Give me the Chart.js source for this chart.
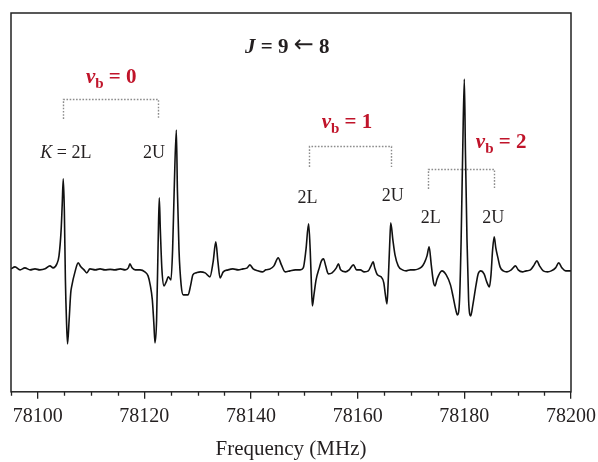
<!DOCTYPE html>
<html>
<head>
<meta charset="utf-8">
<script src="https://cdn.jsdelivr.net/npm/chart.js@4.4.1/dist/chart.umd.min.js"></script>
<style>
  body { margin: 0; background: #fff; }
  canvas { display: block; }
</style>
</head>
<body>
<canvas id="spectrum" width="598" height="462"></canvas>
<script>
// J = 9 <- 8 rotational transition, derivative lineshape (arbitrary units)
const freq = [
  78095.0, 78095.75, 78096.7, 78097.6, 78098.6, 78099.5, 78100.4, 78101.4, 78102.3, 78102.9,
  78103.6, 78104.0, 78104.4, 78104.6, 78104.8, 78105.0, 78105.2, 78105.4, 78105.6, 78105.9,
  78106.2, 78106.4, 78107.0, 78107.6, 78108.1, 78108.7, 78109.2, 78109.8, 78110.8, 78111.7,
  78112.6, 78113.6, 78114.5, 78115.5, 78116.4, 78117.0, 78117.3, 78117.7, 78118.3, 78119.2,
  78120.1, 78120.7, 78121.1, 78121.5, 78121.8, 78122.0, 78122.3, 78122.6, 78122.8, 78123.0,
  78123.3, 78123.7, 78124.1, 78124.5, 78125.0, 78125.3, 78125.6, 78126.0, 78126.2, 78126.5,
  78126.9, 78127.3, 78128.2, 78128.7, 78129.1, 78129.7, 78130.5, 78131.4, 78132.3, 78132.9,
  78133.4, 78133.8, 78134.2, 78134.8, 78135.7, 78136.6, 78137.6, 78138.5, 78139.3, 78139.8,
  78140.4, 78141.3, 78142.1, 78142.8, 78143.6, 78144.3, 78145.1, 78145.7, 78146.4, 78147.3,
  78148.3, 78149.2, 78149.8, 78150.3, 78150.8, 78151.1, 78151.3, 78151.5, 78151.8, 78152.2,
  78152.8, 78153.2, 78153.6, 78154.0, 78154.5, 78155.2, 78156.0, 78156.4, 78156.8, 78157.7,
  78158.4, 78159.2, 78159.8, 78160.5, 78161.2, 78162.0, 78162.5, 78162.9, 78163.2, 78163.7,
  78164.4, 78164.9, 78165.2, 78165.5, 78165.7, 78166.0, 78166.2, 78166.6, 78167.0, 78167.6,
  78168.4, 78169.1, 78169.9, 78170.6, 78171.4, 78172.0, 78172.5, 78173.0, 78173.4, 78173.8,
  78174.2, 78174.5, 78174.9, 78175.8, 78176.6, 78177.4, 78177.9, 78178.4, 78178.7, 78179.1,
  78179.4, 78179.7, 78180.0, 78180.2, 78180.5, 78180.8, 78181.0, 78181.2, 78181.6, 78182.2,
  78182.6, 78183.1, 78183.7, 78184.2, 78184.7, 78185.0, 78185.3, 78185.6, 78185.9, 78186.3,
  78186.7, 78187.3, 78188.0, 78188.8, 78189.6, 78190.1, 78190.9, 78191.6, 78192.4, 78193.1,
  78193.6, 78194.1, 78194.8, 78195.6, 78196.3, 78197.1, 78197.7, 78198.3, 78199.0, 78200.0
];
const intensity = [
  0.1, 0.3, 0.0, 0.2, 0.0, 0.1, 0.0, 0.1, 0.4, 0.2,
  0.6, 1.4, 4.0, 6.5, 9.1, 6.0, -1.0, -5.0, -7.4, -5.0,
  -2.3, -1.6, -0.2, 0.7, 0.3, 0.0, -0.3, 0.1, 0.0, 0.1,
  0.0, 0.05, 0.0, 0.1, 0.0, 0.2, 0.6, 0.2, 0.0, 0.0,
  -0.2, -0.6, -1.5, -3.0, -5.5, -7.3, -5.0, 3.0, 7.2, 4.0,
  0.0, -1.6, -1.2, -0.7, -1.0, 2.0, 8.0, 14.0, 8.0, 2.0,
  -1.5, -2.5, -2.5, -1.5, -0.5, -0.3, -0.2, -0.3, -0.7, 0.8,
  2.8, 0.8, -0.8, -0.2, 0.0, 0.1, 0.0, 0.1, 0.2, 0.5,
  0.1, -0.1, -0.2, 0.0, 0.1, 0.4, 1.2, 0.5, -0.2, -0.1,
  0.0, 0.0, 0.2, 2.0, 4.6, 2.0, -1.0, -3.6, -2.5, -1.0,
  0.2, 0.9, 1.1, 0.4, -0.4, -0.3, 0.2, 0.6, 0.0, -0.2,
  0.0, 0.5, 0.0, 0.0, -0.2, -0.1, 0.4, 0.8, 0.2, -0.5,
  -0.7, -1.3, -2.5, -3.4, -1.5, 2.5, 4.7, 3.0, 1.5, 0.4,
  0.0, -0.1, 0.0, 0.0, 0.1, 0.3, 0.7, 1.4, 2.3, 0.5,
  -1.2, -1.6, -0.9, -0.1, -0.5, -1.5, -2.7, -4.0, -4.5, -3.0,
  3.0, 12.0, 19.1, 12.0, 3.0, -3.0, -4.4, -4.6, -3.5, -1.5,
  -0.4, -0.1, -0.4, -1.2, -1.7, -0.5, 2.0, 3.3, 2.2, 1.2,
  0.3, -0.1, -0.2, 0.0, 0.4, 0.0, -0.2, -0.1, 0.0, 0.5,
  0.9, 0.4, -0.1, -0.2, -0.1, 0.2, 0.7, 0.2, -0.1, -0.1
];

// frequency axis
const freqMin = 78095;
const freqMax = 78200;
const labelStep = 20;
const minorStep = 5;

// v_b groups: bracket spans the 2L / 2U pair
const groupNames = ['0', '1', '2'];
const groupFrom = [78104.8, 78150.9, 78173.2];
const groupTo = [78122.6, 78166.3, 78185.6];

const SERIF = '"Liberation Serif", "Times New Roman", serif';
const RED = '#c0142a';

// bracket heights and label anchors, in data units
const bracketTop = [17.1, 12.4, 10.1];
const bracketFoot = [15.1, 10.3, 8.1];
const groupLabelAt = [[78113.8, 19.3], [78158.0, 14.8], [78186.9, 12.8]];

const lineLabels = [
  { parts: [['K', 'italic 18px'], [' = 2L', '18px']], at: [78105.3, 11.8] },
  { parts: [['2U', '18px']], at: [78121.8, 11.8] },
  { parts: [['2L', '18px']], at: [78150.6, 7.3] },
  { parts: [['2U', '18px']], at: [78166.6, 7.5] },
  { parts: [['2L', '18px']], at: [78173.7, 5.3] },
  { parts: [['2U', '18px']], at: [78185.4, 5.3] }
];

// parts: [text, font style/size, baseline shift, font family]
function drawParts(ctx, parts, cx, cy, color) {
  const fontOf = p => p[1] + ' ' + (p[3] || SERIF);
  ctx.fillStyle = color;
  ctx.textBaseline = 'alphabetic';
  let total = 0;
  parts.forEach(p => {
    ctx.font = fontOf(p);
    total += ctx.measureText(p[0]).width;
  });
  let x = cx - total / 2;
  parts.forEach(p => {
    ctx.font = fontOf(p);
    ctx.fillText(p[0], x, cy + (p[2] || 0));
    x += ctx.measureText(p[0]).width;
  });
}

const annotate = {
  id: 'annotate',
  beforeDatasetsDraw(chart) {
    const { ctx, scales: { x, y } } = chart;
    ctx.save();
    ctx.strokeStyle = '#8c8c8c';
    ctx.lineWidth = 1.4;
    ctx.setLineDash([1.6, 1.6]);
    groupNames.forEach((g, i) => {
      const x1 = Math.round(x.getPixelForValue(groupFrom[i])) + 0.5;
      const x2 = Math.round(x.getPixelForValue(groupTo[i])) + 0.5;
      const yt = Math.round(y.getPixelForValue(bracketTop[i])) + 0.5;
      const yf = y.getPixelForValue(bracketFoot[i]);
      ctx.beginPath();
      ctx.moveTo(x1, yf);
      ctx.lineTo(x1, yt);
      ctx.lineTo(x2, yt);
      ctx.lineTo(x2, yf);
      ctx.stroke();
    });
    ctx.restore();
  },
  afterDraw(chart) {
    const { ctx, chartArea: a, scales: { x, y } } = chart;
    ctx.save();

    // frame
    ctx.strokeStyle = '#222';
    ctx.lineWidth = 1.5;
    ctx.strokeRect(a.left, a.top, a.right - a.left, a.bottom - a.top);

    // minor ticks
    ctx.lineWidth = 1.3;
    ctx.beginPath();
    for (let f = freqMin; f <= freqMax; f += minorStep) {
      if ((f - 78100) % labelStep === 0) continue;
      const px = Math.round(x.getPixelForValue(f)) + 0.5;
      ctx.moveTo(px, a.bottom);
      ctx.lineTo(px, a.bottom + 4);
    }
    ctx.stroke();

    // transition label
    drawParts(ctx, [
      ['J', 'italic bold 21px'], [' = 9 ', 'bold 21px'],
      ['\u2190', '24px', -1, '"DejaVu Sans", sans-serif'], [' 8', 'bold 21px']
    ], x.getPixelForValue(78146.8), y.getPixelForValue(22.4) + 7, '#231f20');

    // v_b group labels
    groupNames.forEach((g, i) => {
      drawParts(ctx, [['v', 'italic bold 21px'], ['b', 'bold 15px', 5], [' = ' + g, 'bold 21px']],
        x.getPixelForValue(groupLabelAt[i][0]), y.getPixelForValue(groupLabelAt[i][1]) + 6, RED);
    });

    // K-doublet labels
    lineLabels.forEach(l => {
      drawParts(ctx, l.parts, x.getPixelForValue(l.at[0]), y.getPixelForValue(l.at[1]) + 6, '#231f20');
    });
    ctx.restore();
  }
};

new Chart(document.getElementById('spectrum'), {
  type: 'line',
  data: {
    datasets: [{
      data: freq.map((f, i) => ({ x: f, y: intensity[i] })),
      borderColor: '#111',
      borderWidth: 1.6,
      pointRadius: 0,
      cubicInterpolationMode: 'monotone',
      fill: false
    }]
  },
  options: {
    responsive: false,
    animation: false,
    layout: { padding: { left: 11, top: 13, right: 27, bottom: 0 } },
    plugins: { legend: { display: false }, tooltip: { enabled: false } },
    scales: {
      x: {
        type: 'linear',
        min: freqMin,
        max: freqMax,
        border: { display: false },
        afterFit: scale => { scale.paddingLeft = 0; scale.paddingRight = 0; },
        grid: {
          drawOnChartArea: false,
          tickLength: 7,
          lineWidth: 1.3,
          color: ctx => (ctx.tick && (ctx.tick.value - 78100) % labelStep === 0) ? '#222' : 'rgba(0,0,0,0)'
        },
        ticks: {
          stepSize: minorStep,
          autoSkip: false,
          maxRotation: 0,
          padding: 6,
          color: '#231f20',
          font: { family: SERIF, size: 20 },
          callback: v => ((v - 78100) % labelStep === 0) ? String(v) : ''
        },
        title: {
          display: true,
          text: 'Frequency (MHz)',
          color: '#231f20',
          font: { family: SERIF, size: 21 },
          padding: { top: 2, bottom: 0 }
        }
      },
      y: {
        display: false,
        min: -12.2,
        max: 25.7
      }
    }
  },
  plugins: [annotate]
});
</script>
</body>
</html>
